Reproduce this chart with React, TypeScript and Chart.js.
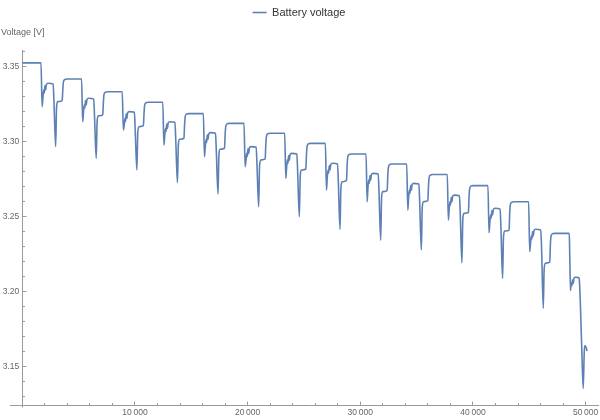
import React, { useEffect, useRef } from 'react';
import { Chart, registerables } from 'chart.js';

Chart.register(...registerables);

// ---------------- data ----------------
const seriesLabel = 'Battery voltage';
const yAxisLabel = 'Voltage [V]';

const initialPlateau = 3.3525;

// start time (s) of each discharge pulse
const dropTimes = [1660, 5260, 8870, 12470, 16070, 19680, 23290, 26900, 30510, 34120, 37720, 41330, 44940];
// first short dip after the drop
const dip1 = [3.3233, 3.3133, 3.3078, 3.2978, 3.29, 3.2833, 3.2756, 3.2678, 3.26, 3.2544, 3.2478, 3.2393, 3.2267];
// first load level
const step1 = [3.3389, 3.3289, 3.32, 3.3133, 3.306, 3.2967, 3.2922, 3.2856, 3.2789, 3.2722, 3.2644, 3.2556, 3.2416];
// deep spike
const dip2 = [3.2967, 3.2889, 3.2811, 3.2727, 3.2651, 3.2567, 3.25, 3.2416, 3.2344, 3.2278, 3.2193, 3.2089, 3.189];
// intermediate level after the deep spike
const step2 = [3.3267, 3.3172, 3.31, 3.3016, 3.2949, 3.2878, 3.2811, 3.2733, 3.2667, 3.26, 3.2522, 3.2404, 3.219];
// rest plateau
const plateau = [3.3418, 3.3333, 3.3263, 3.3187, 3.3122, 3.3056, 3.2989, 3.2918, 3.2851, 3.2781, 3.2707, 3.26, 3.2389];

// small notch pattern after the first dip: [seconds after drop, volts relative to step1]
const notchShape: [number, number][] = [
  [170, -0.0095], [240, -0.0045], [290, -0.0065], [350, -0.0015],
  [410, -0.0045], [480, -0.0008], [620, 0], [1080, -0.0004],
];

// final collapse
const tailTimes = [48550, 48590, 48660, 48720, 48780, 48840, 48900, 48970, 49100, 49380, 49440, 49645, 49787, 49880, 49950, 50140];
const tailVolts = [3.2389, 3.225, 3.2008, 3.2058, 3.204, 3.208, 3.2055, 3.2092, 3.2096, 3.2094, 3.208, 3.1656, 3.1356, 3.16, 3.1642, 3.1605];

const xMajorTicks = [10000, 20000, 30000, 40000, 50000];
const xMinorTicks = [2000, 4000, 6000, 8000, 12000, 14000, 16000, 18000, 22000, 24000, 26000, 28000,
  32000, 34000, 36000, 38000, 42000, 44000, 46000, 48000];
const yMajorTicks = [3.15, 3.2, 3.25, 3.3, 3.35];
const yMinorTicks = [3.13, 3.14, 3.16, 3.17, 3.18, 3.19, 3.21, 3.22, 3.23, 3.24, 3.26, 3.27, 3.28, 3.29,
  3.31, 3.32, 3.33, 3.34, 3.36];

// ---------------- styles ----------------
const FONT = '"Liberation Sans", Arial, sans-serif';
const LINE = '#5E81B5';
const AXIS = '#9a9a9a';
const LABEL = '#666666';

function buildPoints() {
  const pts: { x: number; y: number }[] = [{ x: 0, y: initialPlateau }];
  for (let i = 0; i < dropTimes.length; i++) {
    const D = dropTimes[i];
    const prev = i === 0 ? initialPlateau : plateau[i - 1];
    pts.push({ x: D, y: prev });
    pts.push({ x: D + 100, y: dip1[i] });
    for (const [dt, dv] of notchShape) pts.push({ x: D + dt, y: step1[i] + dv });
    pts.push({ x: D + 1150, y: step1[i] - 0.012 });
    pts.push({ x: D + 1300, y: dip2[i] });
    pts.push({ x: D + 1380, y: step2[i] - 0.004 });
    pts.push({ x: D + 1480, y: step2[i] });
    pts.push({ x: D + 1880, y: step2[i] + 0.0007 });
    pts.push({ x: D + 1930, y: plateau[i] - 0.008 });
    pts.push({ x: D + 1990, y: plateau[i] - 0.002 });
    pts.push({ x: D + 2100, y: plateau[i] - 0.0004 });
    pts.push({ x: D + 2300, y: plateau[i] });
  }
  for (let i = 0; i < tailTimes.length; i++) pts.push({ x: tailTimes[i], y: tailVolts[i] });
  return pts;
}

const fmtThousands = (v: number) => {
  const s = String(Math.round(v));
  return s.length > 3 ? s.slice(0, s.length - 3) + '\u2009' + s.slice(-3) : s;
};

const axisDecor = {
  id: 'axisDecor',
  beforeDatasetsDraw(chart: any) {
    const { ctx, chartArea, scales } = chart;
    const xs = scales.x;
    const ys = scales.y;
    const ax = Math.round(chartArea.left - 0.5) + 0.5;
    const ay = Math.round(chartArea.bottom - 0.5) + 0.5;
    ctx.save();
    ctx.strokeStyle = AXIS;
    ctx.lineWidth = 1;
    ctx.beginPath();
    ctx.moveTo(10, ay);
    ctx.lineTo(ax, ay);
    ctx.moveTo(ax, ay);
    ctx.lineTo(ax, ay + 2);
    const yt = (v: number, len: number) => {
      const p = Math.round(ys.getPixelForValue(v) - 0.5) + 0.5;
      ctx.moveTo(ax, p);
      ctx.lineTo(ax + len, p);
    };
    const xt = (v: number, len: number) => {
      const p = Math.round(xs.getPixelForValue(v) - 0.5) + 0.5;
      ctx.moveTo(p, ay);
      ctx.lineTo(p, ay - len);
    };
    yMajorTicks.forEach((v) => yt(v, 4));
    yMinorTicks.forEach((v) => yt(v, 2.5));
    xMajorTicks.forEach((v) => xt(v, 4));
    xMinorTicks.forEach((v) => xt(v, 2.5));
    ctx.stroke();
    ctx.restore();
  },
  afterDraw(chart: any) {
    const { ctx } = chart;
    ctx.save();
    ctx.font = `9px ${FONT}`;
    ctx.fillStyle = LABEL;
    ctx.textAlign = 'left';
    ctx.textBaseline = 'middle';
    ctx.fillText(yAxisLabel, 1, 33);
    ctx.restore();
  },
};

export default function App() {
  const ref = useRef<HTMLCanvasElement>(null);
  useEffect(() => {
    if (!ref.current) return;
    Chart.defaults.font.family = FONT;
    const chart = new Chart(ref.current, {
      type: 'line',
      data: {
        datasets: [
          {
            label: seriesLabel,
            data: buildPoints(),
            borderColor: LINE,
            backgroundColor: LINE,
            borderWidth: 1.6,
            pointRadius: 0,
            cubicInterpolationMode: 'monotone',
            fill: false,
          },
        ],
      },
      options: {
        animation: false,
        responsive: false,
        devicePixelRatio: 1,
        layout: { padding: { top: 0, left: 0, right: 2, bottom: 0 } },
        plugins: {
          tooltip: { enabled: false },
          legend: {
            display: true,
            position: 'top',
            labels: {
              usePointStyle: true,
              pointStyle: 'line',
              pointStyleWidth: 14,
              padding: 7,
              color: '#333333',
              font: { size: 11, family: FONT },
            },
          },
        },
        scales: {
          x: {
            type: 'linear',
            position: 'bottom',
            min: 0,
            max: 51100,
            afterBuildTicks: (s: any) => {
              s.ticks = xMajorTicks.map((v) => ({ value: v }));
            },
            afterFit: (s: any) => {
              s.height = 15;
              s.paddingLeft = 0;
              s.paddingRight = 0;
            },
            ticks: {
              callback: (v: any) => fmtThousands(Number(v)),
              color: LABEL,
              font: { size: 8.5, family: FONT },
              padding: 3,
              maxRotation: 0,
              autoSkip: false,
            },
            grid: { display: true, drawOnChartArea: false, drawTicks: false },
            border: { display: true, color: AXIS, width: 1 },
          },
          xTop: {
            type: 'linear',
            position: 'top',
            display: true,
            grid: { display: false },
            border: { display: false },
            ticks: { display: false },
            afterFit: (s: any) => {
              s.height = 22;
              s.paddingLeft = 0;
              s.paddingRight = 0;
            },
          },
          y: {
            type: 'linear',
            position: 'left',
            min: 3.1245,
            max: 3.3611,
            afterBuildTicks: (s: any) => {
              s.ticks = yMajorTicks.map((v) => ({ value: v }));
            },
            afterFit: (s: any) => {
              s.width = 22.3;
              s.paddingTop = 0;
              s.paddingBottom = 0;
            },
            ticks: {
              callback: (v: any) => Number(v).toFixed(2),
              color: LABEL,
              font: { size: 8.5, family: FONT },
              padding: 3,
              autoSkip: false,
            },
            grid: { display: true, drawOnChartArea: false, drawTicks: false },
            border: { display: true, color: AXIS, width: 1 },
          },
        },
      },
      plugins: [axisDecor],
    } as any);
    return () => chart.destroy();
  }, []);

  return (
    <div style={{ position: 'fixed', left: 0, top: 0, width: 600, height: 420, background: '#ffffff' }}>
      <canvas ref={ref} width={600} height={420} style={{ display: 'block', width: 600, height: 420 }} />
    </div>
  );
}
